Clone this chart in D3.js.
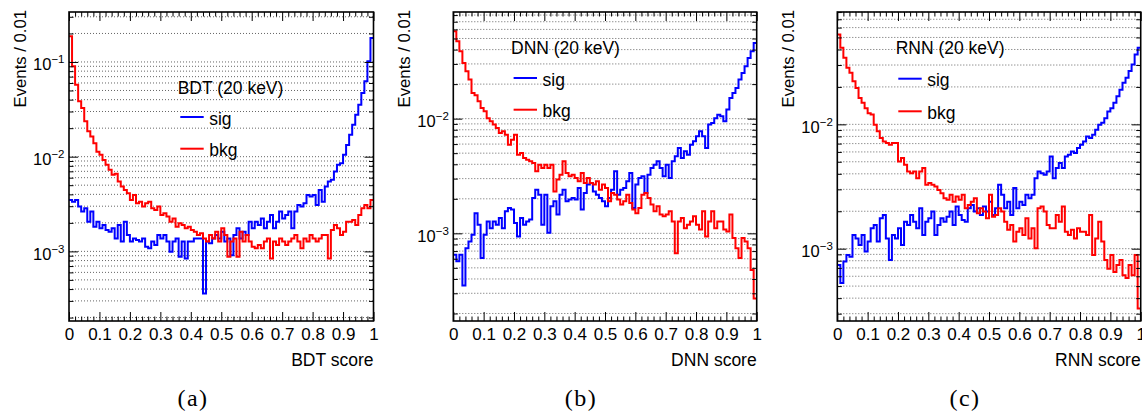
<!DOCTYPE html>
<html>
<head>
<meta charset="utf-8">
<script src="https://cdn.jsdelivr.net/npm/d3@7"></script>
<style>
  body { margin: 0; background: #fff; }
  svg { display: block; }
  text { font-family: "Liberation Sans", Arial, Helvetica, sans-serif; fill: #000; }
</style>
</head>
<body>
<svg id="chart" width="1142" height="412"></svg>
<script>
// ---------------- data ----------------
const binWidth = 0.01;
const xTickValues = [0, 0.1, 0.2, 0.3, 0.4, 0.5, 0.6, 0.7, 0.8, 0.9, 1];
const xTickLabels = ["0", "0.1", "0.2", "0.3", "0.4", "0.5", "0.6", "0.7", "0.8", "0.9", "1"];
const panelTitles = ["BDT (20 keV)", "DNN (20 keV)", "RNN (20 keV)"];
const xTitles = ["BDT score", "DNN score", "RNN score"];
const yTitle = "Events / 0.01";
const captions = ["(a)", "(b)", "(c)"];
const seriesNames = ["sig", "bkg"];
const yDomains = [[1.84e-4, 0.337], [1.72e-4, 0.0851], [2.62e-4, 0.0801]];

const bdtSig = [0.00349,0.00335,0.00349,0.00297,0.00263,0.00285,0.00206,0.00263,0.00182,0.00206,
0.00175,0.00190,0.00168,0.00161,0.00175,0.00137,0.00190,0.00127,0.00206,0.00149,
0.00127,0.00137,0.00132,0.00127,0.00137,0.00112,0.00108,0.00127,0.00117,0.00149,
0.00137,0.00149,0.00127,0.00099,0.00127,0.00137,0.00088,0.00127,0.00084,0.00127,
0.00127,0.00137,0.00137,0.00137,0.00036,0.00127,0.00122,0.00137,0.00149,0.00137,
0.00161,0.00127,0.00137,0.00091,0.00149,0.00175,0.00137,0.00161,0.00149,0.00206,
0.00175,0.00206,0.00190,0.00223,0.00175,0.00206,0.00242,0.00175,0.00206,0.00263,
0.00223,0.00242,0.00263,0.00175,0.00263,0.00309,0.00297,0.00322,0.00394,0.00379,
0.00394,0.00309,0.00446,0.00335,0.00483,0.00546,0.00569,0.00697,0.0082,0.00853,
0.0105,0.0133,0.0170,0.0217,0.0277,0.0353,0.047,0.0624,0.1016,0.179];

const bdtBkg = [0.187,0.090,0.0575,0.0384,0.0326,0.0236,0.0185,0.0163,0.0139,0.0113,
0.0105,0.00925,0.0082,0.00726,0.00643,0.0066,0.00546,0.00483,0.00446,0.00411,
0.00349,0.00394,0.00322,0.00335,0.00297,0.00322,0.00335,0.00285,0.00274,0.00297,
0.00242,0.00252,0.00233,0.00206,0.00223,0.00182,0.00198,0.00190,0.00175,0.00182,
0.00168,0.00161,0.00149,0.00155,0.00137,0.00127,0.00149,0.00137,0.00161,0.00127,
0.00175,0.00149,0.00088,0.00127,0.00137,0.00088,0.00161,0.00127,0.00149,0.00127,
0.00112,0.00108,0.00117,0.00108,0.00127,0.00137,0.00084,0.00127,0.00117,0.00137,
0.00127,0.00117,0.00127,0.00137,0.00149,0.00127,0.00108,0.00137,0.00127,0.00149,
0.00137,0.00127,0.00137,0.00149,0.00149,0.00084,0.00168,0.00190,0.00175,0.00149,
0.00161,0.00206,0.00206,0.00215,0.00190,0.00242,0.00285,0.00309,0.00285,0.00349];

const dnnSig = [0.00065,0.00057,0.00065,0.00035,0.00074,0.00085,0.00097,0.00150,0.00119,0.00061,
0.00097,0.00127,0.00111,0.00127,0.00119,0.00136,0.00111,0.00156,0.00166,0.00161,
0.00123,0.00094,0.00136,0.00119,0.00127,0.00132,0.00203,0.00240,0.00217,0.00119,
0.00217,0.00101,0.00172,0.00190,0.00146,0.00217,0.00240,0.00190,0.00197,0.00203,
0.00197,0.00248,0.00161,0.00225,0.00266,0.00275,0.00232,0.00217,0.00203,0.00190,
0.00172,0.00203,0.00240,0.00347,0.00217,0.00240,0.00248,0.00284,0.00336,0.00166,
0.00266,0.00304,0.00314,0.00225,0.00325,0.00371,0.00397,0.00425,0.00371,0.00314,
0.00397,0.00304,0.00425,0.00470,0.00555,0.00454,0.00519,0.00485,0.00593,0.00634,
0.00702,0.00776,0.00702,0.00555,0.00887,0.00917,0.0101,0.0108,0.0105,0.00948,
0.0120,0.0151,0.0167,0.0185,0.0219,0.0250,0.0286,0.0338,0.0387,0.0457];

const dnnBkg = [0.0577,0.0472,0.0387,0.0306,0.0259,0.0219,0.0167,0.0160,0.0142,0.0124,
0.0116,0.0101,0.00948,0.00887,0.00829,0.00750,0.00776,0.00725,0.00593,0.00656,
0.00725,0.00485,0.00502,0.00454,0.00439,0.00425,0.00411,0.00347,0.00397,0.00371,
0.00397,0.00371,0.00397,0.00232,0.00294,0.00325,0.00425,0.00336,0.00314,0.00325,
0.00304,0.00284,0.00336,0.00275,0.00304,0.00275,0.00266,0.00284,0.00240,0.00266,
0.00248,0.00190,0.00225,0.00217,0.00197,0.00178,0.00190,0.00217,0.00184,0.00161,
0.00150,0.00166,0.00217,0.00225,0.00203,0.00178,0.00156,0.00172,0.00146,0.00141,
0.00146,0.00156,0.00127,0.00067,0.00127,0.00136,0.00111,0.00119,0.00127,0.00141,
0.00119,0.00108,0.00156,0.00094,0.00127,0.00156,0.00111,0.00127,0.00127,0.00108,
0.00104,0.00146,0.00091,0.00074,0.00061,0.00091,0.00085,0.00074,0.00048,0.00027];

const rnnSig = [0.00074,0.00053,0.00079,0.00089,0.00086,0.00129,0.00121,0.00107,0.00129,0.00095,
0.00114,0.00146,0.00155,0.00114,0.00176,0.00187,0.00121,0.00081,0.00129,0.00121,
0.00146,0.00107,0.00165,0.00155,0.00187,0.00165,0.00146,0.00211,0.00129,0.00165,
0.00176,0.00199,0.00129,0.00155,0.00176,0.00165,0.00181,0.00199,0.00155,0.00218,
0.00187,0.00170,0.00165,0.00211,0.00225,0.00199,0.00211,0.00187,0.00218,0.00199,
0.00239,0.00187,0.00211,0.00326,0.00271,0.00211,0.00239,0.00187,0.00307,0.00211,
0.00239,0.00225,0.00271,0.00255,0.00271,0.00369,0.00418,0.00405,0.00393,0.00418,
0.00552,0.00369,0.00445,0.00488,0.00445,0.00552,0.00569,0.00605,0.00587,0.00644,
0.00685,0.00729,0.00800,0.00776,0.00826,0.00906,0.00994,0.0103,0.0112,0.0127,
0.0135,0.0149,0.0168,0.0190,0.0216,0.0237,0.0268,0.0303,0.0365,0.0413];

const rnnBkg = [0.0528,0.0413,0.0343,0.0285,0.0260,0.0222,0.0196,0.0163,0.0149,0.0135,
0.0123,0.0120,0.00994,0.00878,0.00776,0.00729,0.00707,0.00685,0.00707,0.00707,
0.00503,0.00535,0.00473,0.00418,0.00405,0.00418,0.00369,0.00418,0.00445,0.00326,
0.00337,0.00326,0.00316,0.00297,0.00279,0.00255,0.00247,0.00271,0.00239,0.00263,
0.00247,0.00271,0.00211,0.00225,0.00239,0.00255,0.00193,0.00211,0.00199,0.00176,
0.00271,0.00181,0.00187,0.00211,0.00199,0.00165,0.00142,0.00155,0.00114,0.00137,
0.00146,0.00129,0.00176,0.00121,0.00146,0.00101,0.00211,0.00218,0.00199,0.00155,
0.00146,0.00146,0.00187,0.00165,0.00218,0.00137,0.00129,0.00142,0.00121,0.00146,
0.00137,0.00137,0.00129,0.00187,0.00089,0.00121,0.00165,0.00114,0.00081,0.00069,
0.00089,0.00065,0.00074,0.00081,0.00061,0.00058,0.00074,0.00061,0.00089,0.00033];

// ---------------- layout ----------------
const frameTop = 12, frameBottom = 321;
const layout = [
  { left: 69,    right: 373.5,  caption: 193, legX: 177.7, legTop: 94 },
  { left: 453.3, right: 756.7,  caption: 581, legX: 511,   legTop: 53.7 },
  { left: 837.3, right: 1140.7, caption: 965, legX: 895.7, legTop: 53.7 }
];
const legendGaps = [[23, 54.7], [24.3, 56], [25, 57.6]];
const sigColor = "#0000ff", bkgColor = "#ff0000";
const panelData = [[bdtSig, bdtBkg], [dnnSig, dnnBkg], [rnnSig, rnnBkg]];

const svg = d3.select("#chart");

panelData.forEach((series, p) => {
  const L = layout[p];
  const g = svg.append("g");
  const x = d3.scaleLinear().domain([0, 1]).range([L.left, L.right]);
  const y = d3.scaleLog().domain(yDomains[p]).range([frameBottom, frameTop]);
  const [y0, y1] = yDomains[p];

  // grid values (1..9 x 10^k)
  const gridVals = [];
  const decades = [];
  for (let k = -5; k <= 0; k++) {
    for (let m = 1; m <= 9; m++) {
      const v = m * Math.pow(10, k);
      if (v >= y0 && v <= y1) {
        gridVals.push(v);
        if (m === 1) decades.push(v);
      }
    }
  }
  const minorY = gridVals.filter(v => decades.indexOf(v) < 0);

  g.append("g").selectAll("line").data(gridVals).join("line")
    .attr("x1", L.left).attr("x2", L.right)
    .attr("y1", d => y(d)).attr("y2", d => y(d))
    .attr("stroke", "#555").attr("stroke-width", 0.9)
    .attr("stroke-dasharray", "1,2");

  // histograms
  const clipId = "clip" + p;
  svg.append("clipPath").attr("id", clipId).append("rect")
    .attr("x", L.left).attr("y", frameTop)
    .attr("width", L.right - L.left).attr("height", frameBottom - frameTop);

  const line = d3.line()
    .x(d => x(d[0])).y(d => y(d[1]))
    .curve(d3.curveStepAfter);
  const toPts = arr => {
    const pts = arr.map((v, i) => [i * binWidth, v]);
    pts.push([arr.length * binWidth, arr[arr.length - 1]]);
    return pts;
  };
  [[series[0], sigColor], [series[1], bkgColor]].forEach(([arr, col]) => {
    g.append("path")
      .attr("clip-path", `url(#${clipId})`)
      .attr("d", line(toPts(arr)))
      .attr("fill", "none").attr("stroke", col)
      .attr("stroke-width", 2).attr("stroke-linejoin", "miter");
  });

  // axes
  const xMinor = d3.range(0, 51).map(i => i * 0.02).filter((v, i) => i % 5 !== 0);
  const styleAxis = sel => {
    sel.select(".domain").remove();
    sel.selectAll(".tick line").attr("stroke", "#000").attr("stroke-width", 1);
  };
  g.append("g").attr("transform", `translate(0,${frameBottom})`)
    .call(d3.axisBottom(x).tickValues(xTickValues).tickSize(-9).tickPadding(7)
      .tickFormat((d, i) => xTickLabels[i]))
    .call(styleAxis)
    .call(s => s.selectAll(".tick text")
      .attr("font-size", 17).attr("font-family", "Liberation Sans, Arial, sans-serif").attr("fill", "#000"));
  g.append("g").attr("transform", `translate(0,${frameBottom})`)
    .call(d3.axisBottom(x).tickValues(xMinor).tickSize(-4.5).tickFormat(""))
    .call(styleAxis);
  g.append("g").attr("transform", `translate(0,${frameTop})`)
    .call(d3.axisTop(x).tickValues(xTickValues).tickSize(-9).tickFormat(""))
    .call(styleAxis);
  g.append("g").attr("transform", `translate(0,${frameTop})`)
    .call(d3.axisTop(x).tickValues(xMinor).tickSize(-4.5).tickFormat(""))
    .call(styleAxis);

  const yLeft = g.append("g").attr("transform", `translate(${L.left},0)`)
    .call(d3.axisLeft(y).tickValues(decades).tickSize(-9).tickPadding(4.5))
    .call(styleAxis);
  yLeft.selectAll(".tick text").each(function (d) {
    const t = d3.select(this);
    const e = Math.round(Math.log10(d));
    t.text(null).attr("dy", 8).attr("font-size", 16.5)
      .attr("font-family", "Liberation Sans, Arial, sans-serif").attr("fill", "#000");
    t.append("tspan").text("10");
    t.append("tspan").attr("dy", -7).attr("font-size", 11.5).text("\u2212" + Math.abs(e));
  });
  g.append("g").attr("transform", `translate(${L.left},0)`)
    .call(d3.axisLeft(y).tickValues(minorY).tickSize(-4.5).tickFormat(""))
    .call(styleAxis);
  g.append("g").attr("transform", `translate(${L.right},0)`)
    .call(d3.axisRight(y).tickValues(decades).tickSize(-9).tickFormat(""))
    .call(styleAxis);
  g.append("g").attr("transform", `translate(${L.right},0)`)
    .call(d3.axisRight(y).tickValues(minorY).tickSize(-4.5).tickFormat(""))
    .call(styleAxis);

  // frame
  g.append("rect")
    .attr("x", L.left).attr("y", frameTop)
    .attr("width", L.right - L.left).attr("height", frameBottom - frameTop)
    .attr("fill", "none").attr("stroke", "#000").attr("stroke-width", 1.6);

  // axis titles
  g.append("text")
    .attr("transform", `translate(${L.left - 43.5},10) rotate(-90)`)
    .attr("text-anchor", "end").attr("font-size", 16.7)
    .text(yTitle);
  g.append("text")
    .attr("x", L.right).attr("y", 366)
    .attr("text-anchor", "end").attr("font-size", 17.5)
    .text(xTitles[p]);

  // legend
  const lg = g.append("g");
  lg.append("text").attr("x", L.legX).attr("y", L.legTop)
    .attr("font-size", 17.5).text(panelTitles[p]);
  [[sigColor, seriesNames[0]], [bkgColor, seriesNames[1]]].forEach(([col, name], j) => {
    const ly = L.legTop + legendGaps[p][j];
    lg.append("line")
      .attr("x1", L.legX + 2.6).attr("x2", L.legX + 26)
      .attr("y1", ly).attr("y2", ly)
      .attr("stroke", col).attr("stroke-width", 2);
    lg.append("text").attr("x", L.legX + 31.5).attr("y", ly + 7.5)
      .attr("font-size", 17.5).text(name);
  });

  // caption
  svg.append("text")
    .attr("x", L.caption).attr("y", 406)
    .attr("text-anchor", "middle")
    .style("font-family", "'Liberation Serif', 'DejaVu Serif', serif")
    .attr("font-size", 24).attr("letter-spacing", 1.5)
    .text(captions[p]);
});
</script>
</body>
</html>
